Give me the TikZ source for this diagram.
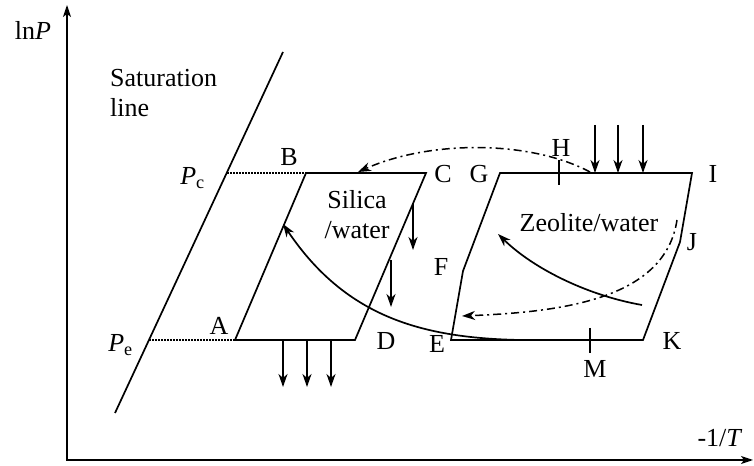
\documentclass[tikz,border=0pt]{standalone}
\usepackage{fontspec}
\setmainfont{Liberation Serif}
\usepackage{tikz}
\usetikzlibrary{arrows.meta}
\tikzset{
	boundary/.style={
			line width=1.7bp,
			line join=miter
		},
	axisline/.style={
			line width=1.5bp,
			{Stealth[length=12bp,width=8bp,inset=3bp]}-{Stealth[length=12bp,width=8bp,inset=3bp]}
		},
	heatarrow/.style={
			line width=1.5bp,
			-{Stealth[length=13bp,width=9bp,inset=4bp]}
		},
	flowline/.style={
			heatarrow,
			line width=1.7bp
		},
	dashdotline/.style={
			heatarrow,
			dash pattern=on 8bp off 4bp on 2bp off 4bp
		},
	dotline/.style={
			line width=1.2bp,
			dash pattern=on 1.5bp off 1.5bp
		},
	pointlabel/.style={
			font=\fontsize{26bp}{30bp}\selectfont,
			inner sep=0pt,
			anchor=base
		}
}

\begin{document}
\begin{tikzpicture}[x=1bp, y=1bp]
\useasboundingbox (0,0) rectangle (754,466);

% axes
\coordinate (O) at (67,6);
\coordinate (ytop) at (67,461);
\coordinate (xend) at (753,6);
\draw[axisline] (ytop) -- (O) -- (xend);
\node[pointlabel] (lnP) at (33,426) {ln\textit{P}};
\node[pointlabel] (invT) at (720,19) {-1/\textit{T}};

% saturation line
\coordinate (sat1) at (115,53);
\coordinate (sat2) at (283,414);
\draw[boundary] (sat1) -- (sat2);
\node[pointlabel, anchor=north west, align=left] (satlabel) at (110,397) {Saturation\\line};
\coordinate (pc) at (227,293);
\coordinate (pe) at (149,126);
\node[pointlabel, anchor=base east] (lPc) at (205,281) {\textit{P}\textsubscript{c}};
\node[pointlabel, anchor=base east] (lPe) at (133,114) {\textit{P}\textsubscript{e}};

% silica/water
\coordinate (A) at (235,126);
\coordinate (B) at (306,293);
\coordinate (C) at (426,293);
\coordinate (D) at (355,126);
\draw[boundary] (A) -- (B) -- (C) -- (D) -- cycle;
\draw[dotline] (pc) -- (B);
\draw[dotline] (pe) -- (A);
\node[pointlabel] (lA) at (219,131) {A};
\node[pointlabel] (lB) at (289,300) {B};
\node[pointlabel] (lC) at (443,283) {C};
\node[pointlabel] (lD) at (386,116) {D};
\node[pointlabel, anchor=center, align=center] (silica) at (357,251) {Silica\\/water};

% zeolite/water
\coordinate (E) at (451,126);
\coordinate (F) at (463,195);
\coordinate (G) at (500,293);
\coordinate (I) at (692,293);
\coordinate (J) at (680,224);
\coordinate (K) at (643,126);
\coordinate (H) at (559,293);
\coordinate (M) at (590,126);
\draw[boundary] (E) -- (F) -- (G) -- (I) -- (J) -- (K) -- cycle;
\draw[boundary] ([yshift=13bp]H) -- ([yshift=-12bp]H);
\draw[boundary] ([yshift=12bp]M) -- ([yshift=-13bp]M);
\node[pointlabel] (lE) at (437,113) {E};
\node[pointlabel] (lF) at (441,190) {F};
\node[pointlabel] (lG) at (479,283) {G};
\node[pointlabel] (lH) at (561,309) {H};
\node[pointlabel] (lI) at (713,283) {I};
\node[pointlabel] (lJ) at (692,215) {J};
\node[pointlabel] (lK) at (672,116) {K};
\node[pointlabel] (lM) at (595,88) {M};
\node[pointlabel] (zeolite) at (589,234) {Zeolite/water};

% heat in and out
\coordinate (qi1) at (595,341); \coordinate (qi1e) at (595,293);
\coordinate (qi2) at (618,341); \coordinate (qi2e) at (618,293);
\coordinate (qi3) at (643,341); \coordinate (qi3e) at (643,293);
\draw[heatarrow] (qi1) -- (qi1e);
\draw[heatarrow] (qi2) -- (qi2e);
\draw[heatarrow] (qi3) -- (qi3e);

\coordinate (qo1) at (283,126); \coordinate (qo1e) at (283,79);
\coordinate (qo2) at (307,126); \coordinate (qo2e) at (307,79);
\coordinate (qo3) at (331,126); \coordinate (qo3e) at (331,79);
\draw[heatarrow] (qo1) -- (qo1e);
\draw[heatarrow] (qo2) -- (qo2e);
\draw[heatarrow] (qo3) -- (qo3e);

\coordinate (qc1) at (413,263); \coordinate (qc1e) at (413,216);
\coordinate (qc2) at (391,206); \coordinate (qc2e) at (391,159);
\draw[heatarrow] (qc1) -- (qc1e);
\draw[heatarrow] (qc2) -- (qc2e);

% vapour flows
\coordinate (ek) at (520,126);
\coordinate (ab) at (283,242);
\draw[flowline] (ek) .. controls (420,128) and (345,150) .. (ab);

\coordinate (z0) at (642,161);
\coordinate (z1) at (498,232);
\draw[flowline] (z0) .. controls (590,170) and (535,196) .. (z1);

\coordinate (hi) at (590,294);
\coordinate (bc) at (358,294);
\draw[dashdotline] (hi) .. controls (530,326) and (430,326) .. (bc);

\coordinate (jj) at (677,246);
\coordinate (ef) at (462,150);
\draw[dashdotline] (jj) .. controls (665,166) and (560,154) .. (ef);

\end{tikzpicture}
\end{document}
